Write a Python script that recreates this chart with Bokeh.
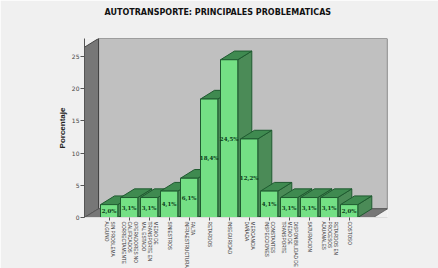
import math
from bokeh.plotting import figure
from bokeh.models import FixedTicker, ColumnDataSource, Range1d, Title
from bokeh.core.properties import value
from bokeh.embed import file_html
from bokeh.resources import INLINE

title_text = "AUTOTRANSPORTE: PRINCIPALES PROBLEMATICAS"
categories = ["SIN PROBLEMA\nALGUNO", "OPERADORES NO\nCALIFICADOS\nCORRECTAMENTE",
              "MEDIO DE\nTRANSPORTE EN\nMAL ESTADO", "SINIESTROS",
              "FALTA\nINFRAESTRUCTURA", "RETARDOS", "INSEGURIDAD",
              "MERCANCIA\nDAÑADA", "CONSTANTES\nINSPECCIONES",
              "DISPONIBILIDAD DE\nMEDIO DE\nTRANSPORTE", "SATURACION",
              "RETARDOS EN\nPROCESOS\nADUANALES", "COSTOSO"]
values = [2.0, 3.1, 3.1, 4.1, 6.1, 18.4, 24.5, 12.2, 4.1, 3.1, 3.1, 3.1, 2.0]
labels = ["2,0%", "3,1%", "3,1%", "4,1%", "6,1%", "18,4%", "24,5%", "12,2%",
          "4,1%", "3,1%", "3,1%", "3,1%", "2,0%"]
y_ticks = [0, 5, 10, 15, 20, 25]

X0, X1 = -1.2325, 13.9175
Y1 = 27.8
DX, DY = 0.7, 1.35
HALF = 0.4325

p = figure(width=438, height=268, output_backend="svg", toolbar_location=None,
           title=None,
           x_range=Range1d(X0, X1), y_range=Range1d(0, Y1),
           frame_width=303, frame_height=179,
           min_border_left=84, min_border_right=51, min_border_top=38, min_border_bottom=51,
           border_fill_color="#f0f0f0", background_fill_color="#f0f0f0", outline_line_color=None)

p.add_layout(Title(text="\u00a0", text_font_size="18px", standoff=0), "above")
p.add_layout(Title(text=title_text, text_font="DejaVu Sans", text_font_style="bold",
                   text_font_size="8px", text_color="#111111", align="left", offset=20,
                   standoff=0), "above")

# walls and floor
p.patch([X0 + DX, X1, X1, X0 + DX], [DY, DY, Y1, Y1], fill_color="#c0c0c0",
        line_color="#555555", line_width=1.2)
p.patch([X0, X0 + DX, X0 + DX, X0], [0, DY, Y1, Y1 - DY], fill_color="#777777",
        line_color="#444444", line_width=1)
p.patch([X0, X0 + DX, X1, X1 - DX], [0, DY, DY, 0], fill_color="#777777",
        line_color="#555555", line_width=0.8)

# 3-D bars
xs, ys, fills = [], [], []
for i, v in enumerate(values):
    l, r = i - HALF, i + HALF
    xs += [[r, r + DX, r + DX, r], [l, l + DX, r + DX, r], [l, r, r, l]]
    ys += [[0, DY, v + DY, v], [v, v + DY, v + DY, v], [0, 0, v, v]]
    fills += ["#4b8b57", "#3f8a50", "#74e085"]
p.patches(xs, ys, fill_color=fills, line_color="#1f5a30", line_width=1)

src = ColumnDataSource(dict(x=list(range(len(values))), y=[v / 2 for v in values], t=labels))
p.text("x", "y", text="t", source=src, text_align="center", text_baseline="middle",
       text_font=value("DejaVu Serif"), text_font_style="bold", text_font_size="5.5px",
       text_color="#0a3a1a")

p.grid.visible = False

ax = p.yaxis[0]
ax.ticker = FixedTicker(ticks=y_ticks)
ax.axis_label = "Porcentaje"
ax.axis_label_text_font = "Liberation Sans"
ax.axis_label_text_font_style = "bold"
ax.axis_label_text_font_size = "8px"
ax.axis_label_text_color = "#222222"
ax.axis_label_standoff = 2
ax.major_label_text_font = "DejaVu Sans"
ax.major_label_text_font_size = "6px"
ax.major_label_text_color = "#444444"
ax.major_label_standoff = 1
ax.major_tick_out = 4
ax.major_tick_in = 0
ax.minor_tick_out = 0
ax.minor_tick_in = 0
ax.major_tick_line_color = "#555555"
ax.axis_line_color = "#555555"

bx = p.xaxis[0]
bx.ticker = FixedTicker(ticks=list(range(len(categories))))
bx.major_label_overrides = {i: c for i, c in enumerate(categories)}
bx.major_label_orientation = -math.pi / 2
bx.major_label_text_font = "Liberation Sans"
bx.major_label_text_font_size = "4.7px"
bx.major_label_text_color = "#333333"
bx.major_label_standoff = 1
bx.major_tick_out = 3
bx.major_tick_in = 0
bx.minor_tick_out = 0
bx.minor_tick_in = 0
bx.major_tick_line_color = "#555555"
bx.axis_line_color = "#dddddd"

open("out.html", "w").write(file_html(p, INLINE))
